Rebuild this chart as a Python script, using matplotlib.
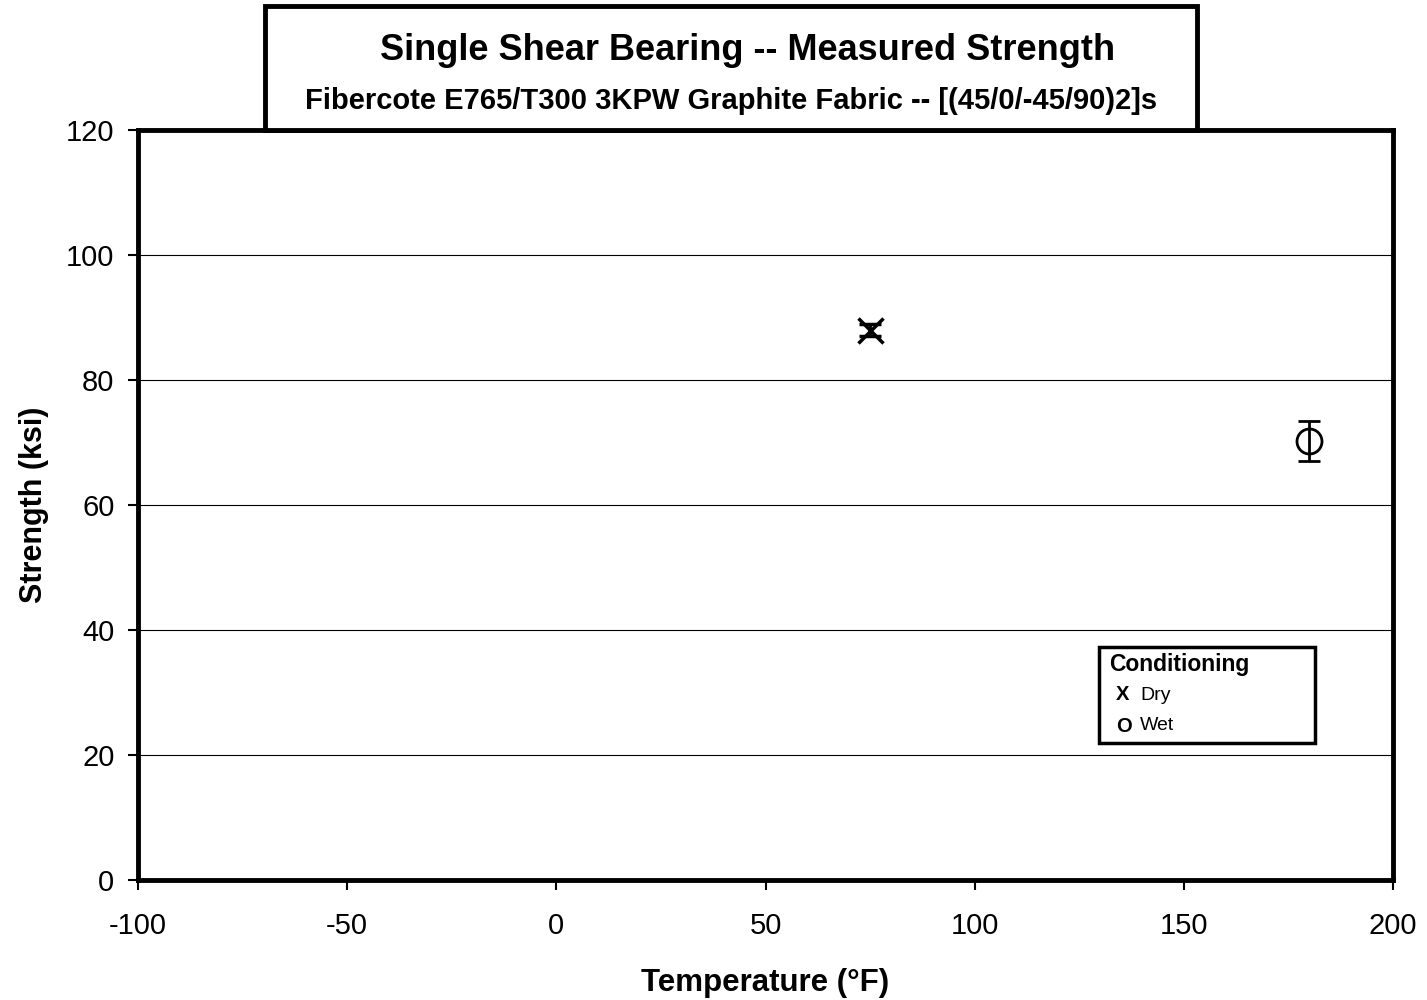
import matplotlib.pyplot as plt
from matplotlib.patches import Rectangle

plt.rcParams['font.family'] = ['Liberation Sans', 'DejaVu Sans']
plt.rcParams['axes.unicode_minus'] = False

# data
conditions = ['Dry', 'Wet']
temps = [75, 180]
strengths = [88.0, 70.2]
errors = [1.0, 3.2]
markers = ['x', 'o']
legend_glyphs = ['X', 'O']

fig = plt.figure(figsize=(14.27, 10), dpi=100)
ax = fig.add_axes([0.0967, 0.12, 0.8795, 0.75])

for t, s, e, m in zip(temps, strengths, errors, markers):
    ax.errorbar([t], [s], yerr=[e], fmt=m, color='black', mfc='none', mec='black',
                ms=18, mew=2.5 if m == 'x' else 2, elinewidth=2, capsize=8, capthick=2,
                zorder=3)

ax.set_xlim(-100, 200)
ax.set_ylim(0, 120)
ax.set_xticks(range(-100, 201, 50))
ax.set_yticks(range(0, 121, 20))
ax.yaxis.grid(True, color='black', linewidth=0.8)
ax.set_axisbelow(True)
for sp in ax.spines.values():
    sp.set_linewidth(3.5)
ax.tick_params(axis='both', labelsize=21, length=7, width=1.5, direction='out')
ax.tick_params(axis='x', pad=16)
ax.tick_params(axis='y', pad=10)

ax.set_xlabel('Temperature (°F)', fontsize=22.5, fontweight='bold', labelpad=20)
ax.set_ylabel('Strength (ksi)', fontsize=22, fontweight='bold', labelpad=12)

# title box
box = Rectangle((0.1857, 0.87), 0.653, 0.124, transform=fig.transFigure,
                facecolor='white', edgecolor='black', linewidth=3.5, zorder=5)
fig.patches.append(box)
fig.text(0.524, 0.949, 'Single Shear Bearing -- Measured Strength', ha='center', va='center',
         fontsize=26, fontweight='bold', zorder=6)
fig.text(0.512, 0.899, 'Fibercote E765/T300 3KPW Graphite Fabric -- [(45/0/-45/90)2]s',
         ha='center', va='center', fontsize=21, fontweight='bold', zorder=6)

# legend box
lx, ly, lw, lh = 0.7702, 0.257, 0.1514, 0.096
fig.patches.append(Rectangle((lx, ly), lw, lh, transform=fig.transFigure,
                             facecolor='white', edgecolor='black', linewidth=2.5, zorder=5))
fig.text(0.7772, 0.335, 'Conditioning', ha='left', va='center', fontsize=16.5,
         fontweight='bold', zorder=6)
for i, (g, c) in enumerate(zip(legend_glyphs, conditions)):
    yy = 0.305 - i * 0.031
    fig.text(0.7822, yy, g, ha='left', va='center', fontsize=14.5, fontweight='bold', zorder=6)
    fig.text(0.799, yy, c, ha='left', va='center', fontsize=14, zorder=6)

fig.savefig('out.png', dpi=100)
